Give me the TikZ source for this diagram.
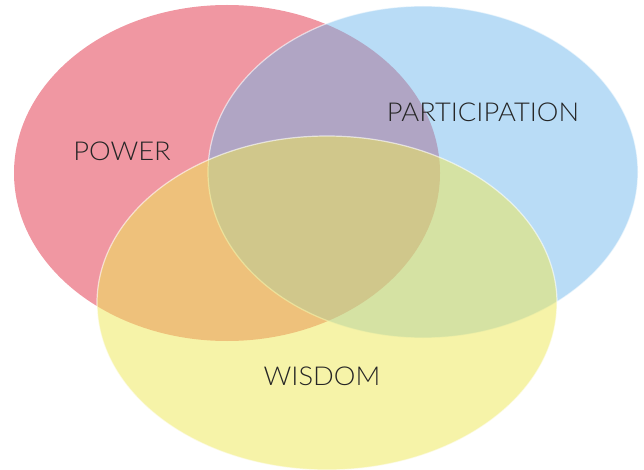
\documentclass[tikz,border=0pt]{standalone}
\usepackage{fontspec}
\newfontfamily\vennfont{Lato Light}[FakeStretch=1.05]
\usetikzlibrary{shapes.geometric}
\definecolor{powerred}{RGB}{240,151,162}
\definecolor{partblue}{RGB}{106,181,236}
\definecolor{wisdomyellow}{RGB}{238,232,88}
\definecolor{labelgray}{RGB}{38,38,38}

\begin{document}
\begin{tikzpicture}[
    x=1pt, y=-1pt,
    every node/.style={font=\vennfont\fontsize{26}{30}\selectfont, text=labelgray},
    setbox/.style={
        ellipse,
        inner sep=0pt,
        draw=white,
        line width=1.2pt
    },
    powerset/.style={
        setbox,
        fill=powerred,
        draw opacity=0
    },
    partset/.style={
        setbox,
        fill=partblue,
        fill opacity=0.47,
        draw opacity=0.6
    },
    wisdomset/.style={
        setbox,
        fill=wisdomyellow,
        fill opacity=0.52,
        draw opacity=0.6
    }
]
\useasboundingbox (0,0) rectangle (644,470);

% Three sets
\node[powerset, minimum width=426pt, minimum height=336pt] (power) at (227,173) {};
\node[partset, minimum width=430pt, minimum height=332pt] (part) at (423,172) {};
\node[wisdomset, minimum width=460pt, minimum height=334pt] (wisdom) at (327,303) {};

% Labels
\node (powerlabel) at (122,151) {POWER};
\node (partlabel) at (483,112) {PARTICIPATION};
\node (wisdomlabel) at (322,376) {WISDOM};

\end{tikzpicture}
\end{document}
